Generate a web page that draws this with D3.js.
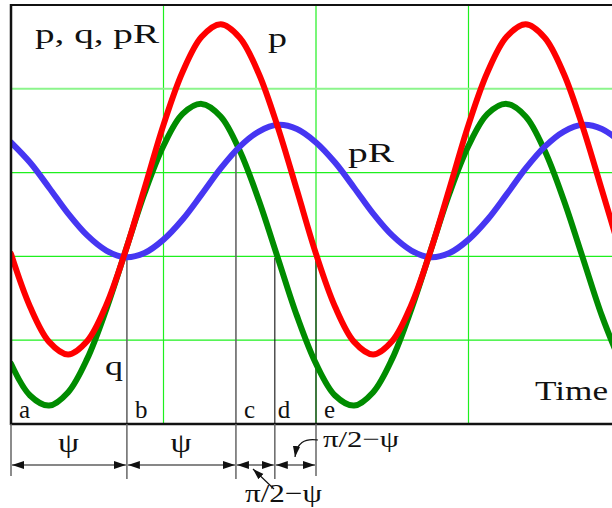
<!DOCTYPE html>
<html lang="en">
<head>
<meta charset="UTF-8">
<title>p, q, pR</title>
<script src="https://d3js.org/d3.v7.min.js"></script>
<style>
body { margin: 0; background: white; }
svg { display: block; }
text { font-family: "Liberation Serif", "Times New Roman", "DejaVu Serif", serif; fill: #111; }
</style>
</head>
<body>
<svg width="612" height="508"></svg>
<script>
// sample times (grid units) and the three curves
var times = [0, 0.125, 0.25, 0.375, 0.5, 0.625, 0.75, 0.875, 1, 1.125, 1.25, 1.375, 1.5, 1.625, 1.75, 1.875,
             2, 2.125, 2.25, 2.375, 2.5, 2.625, 2.75, 2.875, 3, 3.125, 3.25, 3.375, 3.5, 3.625, 3.75, 3.875, 4];
var pVals  = [2.03, 1.40, 0.98, 0.83, 0.99, 1.42, 2.06, 2.81, 3.57, 4.20, 4.62, 4.77, 4.61, 4.18, 3.54, 2.79,
              2.03, 1.40, 0.98, 0.83, 0.99, 1.42, 2.06, 2.81, 3.57, 4.20, 4.62, 4.77, 4.61, 4.18, 3.54, 2.79, 2.03];
var qVals  = [0.72, 0.34, 0.22, 0.38, 0.78, 1.37, 2.06, 2.75, 3.32, 3.70, 3.82, 3.67, 3.26, 2.67, 1.98, 1.29,
              0.72, 0.34, 0.22, 0.38, 0.78, 1.37, 2.06, 2.75, 3.32, 3.70, 3.82, 3.67, 3.26, 2.67, 1.98, 1.29, 0.72];
var pRVals = [3.36, 3.12, 2.82, 2.51, 2.25, 2.07, 1.99, 2.04, 2.20, 2.44, 2.74, 3.05, 3.31, 3.49, 3.57, 3.52,
              3.36, 3.12, 2.82, 2.51, 2.25, 2.07, 1.99, 2.04, 2.20, 2.44, 2.74, 3.05, 3.31, 3.49, 3.57, 3.52, 3.36];

var gridX = [1, 2, 3];
var gridY = [1, 2, 3, 4];

// a..e instants and where their drop lines start
var markNames = ["a", "b", "c", "d", "e"];
var markT     = [0, 0.76, 1.475, 1.73, 2.0];
var markTop   = [null, 1.99, 3.30, 1.98, 2.06];
var spanLabels = ["\u03c8", "\u03c8"];

var svg = d3.select("svg"),
    width = +svg.attr("width"),
    height = +svg.attr("height");

var x = d3.scaleLinear().domain([0, 4]).range([11, 621]);
var y = d3.scaleLinear().domain([0, 5]).range([424, 5]);

svg.append("defs").append("clipPath").attr("id", "plot")
  .append("rect").attr("x", x(0)).attr("y", y(5)).attr("width", width - x(0)).attr("height", y(0) - y(5));

var defs = svg.select("defs");
defs.append("marker")
    .attr("id", "ah").attr("viewBox", "0 0 12 8")
    .attr("refX", 12).attr("refY", 4)
    .attr("markerWidth", 12).attr("markerHeight", 8)
    .attr("markerUnits", "userSpaceOnUse")
    .attr("orient", "auto-start-reverse")
  .append("path").attr("d", "M0,0 L12,4 L0,8 Z").attr("fill", "#111");
defs.append("marker")
    .attr("id", "ah2").attr("viewBox", "0 0 12 8")
    .attr("refX", 12).attr("refY", 4)
    .attr("markerWidth", 11).attr("markerHeight", 8)
    .attr("markerUnits", "userSpaceOnUse")
    .attr("orient", "auto")
  .append("path").attr("d", "M0,0 L12,4 L0,8 Z").attr("fill", "#111");

// grid
svg.append("g").selectAll("line").data(gridX).enter().append("line")
    .attr("x1", function(d) { return x(d); }).attr("x2", function(d) { return x(d); })
    .attr("y1", y(5)).attr("y2", y(0))
    .attr("stroke", "#1ef01e").attr("stroke-width", 1.2);
svg.append("g").selectAll("line").data(gridY).enter().append("line")
    .attr("x1", x(0)).attr("x2", width)
    .attr("y1", function(d) { return y(d); }).attr("y2", function(d) { return y(d); })
    .attr("stroke", function(d) { return d == 4 ? "#8cf58c" : "#1ef01e"; })
    .attr("stroke-width", function(d) { return d == 4 ? 2 : 1.2; });

// drop lines a..e above the axis
svg.append("g").selectAll("line").data(markT.slice(1)).enter().append("line")
    .attr("x1", function(d) { return x(d); }).attr("x2", function(d) { return x(d); })
    .attr("y1", function(d, i) { return y(markTop[i + 1]); }).attr("y2", y(0))
    .attr("stroke", function(d, i) { return i < 2 ? "#666" : "#111"; })
    .attr("stroke-width", function(d, i) { return i < 2 ? 1.6 : 1.1; });

// curves
var line = d3.line()
    .x(function(d) { return x(d[0]); })
    .y(function(d) { return y(d[1]); })
    .curve(d3.curveCatmullRom);

var series = [
  {vals: qVals, color: "#008c00"},
  {vals: pRVals, color: "#4636f2"},
  {vals: pVals, color: "#ff0000"}
];
svg.append("g").attr("clip-path", "url(#plot)")
  .selectAll("path").data(series).enter().append("path")
    .attr("d", function(s) { return line(times.map(function(t, i) { return [t, s.vals[i]]; })); })
    .attr("fill", "none")
    .attr("stroke", function(s) { return s.color; })
    .attr("stroke-width", 6)
    .attr("stroke-linejoin", "round")
    .attr("stroke-linecap", "round");

// frame: left axis, top border, time axis
svg.append("line").attr("x1", x(0)).attr("x2", x(0)).attr("y1", y(5) - 1).attr("y2", y(0) + 1)
    .attr("stroke", "#111").attr("stroke-width", 2.5);
svg.append("line").attr("x1", x(0) - 1).attr("x2", width).attr("y1", y(5)).attr("y2", y(5))
    .attr("stroke", "#111").attr("stroke-width", 2);
svg.append("line").attr("x1", x(0) - 1).attr("x2", width).attr("y1", y(0)).attr("y2", y(0))
    .attr("stroke", "#111").attr("stroke-width", 2.5);

// extensions under the axis
svg.append("g").selectAll("line").data(markT).enter().append("line")
    .attr("x1", function(d) { return x(d); }).attr("x2", function(d) { return x(d); })
    .attr("y1", y(0)).attr("y2", function(d, i) { return (i == 0 || i == 4) ? 476 : 479; })
    .attr("stroke", "#666").attr("stroke-width", 1.5);

// letters a..e
svg.append("g").selectAll("text").data(markNames).enter().append("text")
    .attr("x", function(d, i) { return x(markT[i]) + (i == 3 ? 3 : 8); })
    .attr("y", 418)
    .style("font-size", "25px")
    .text(function(d) { return d; });

// span arrows
var spans = d3.pairs(markT);
svg.append("g").selectAll("line").data(spans).enter().append("line")
    .attr("x1", function(d) { return x(d[0]) + 1; }).attr("x2", function(d) { return x(d[1]) - 1; })
    .attr("y1", 465).attr("y2", 465)
    .attr("stroke", "#111").attr("stroke-width", 1.2)
    .attr("marker-start", "url(#ah)").attr("marker-end", "url(#ah)");

svg.append("g").selectAll("text").data(spanLabels).enter().append("text")
    .attr("x", function(d, i) { return (x(spans[i][0]) + x(spans[i][1])) / 2 - 11; })
    .attr("y", 452)
    .attr("textLength", 21).attr("lengthAdjust", "spacingAndGlyphs")
    .style("font-size", "28px")
    .text(function(d) { return d; });

// pi/2 - psi notes with pointer arrows
svg.append("text").attr("x", 323).attr("y", 447)
    .attr("textLength", 76).attr("lengthAdjust", "spacingAndGlyphs")
    .style("font-size", "24px").text("\u03c0/2\u2212\u03c8");
svg.append("path").attr("d", "M318,440 C304,438 297,443 295,457")
    .attr("fill", "none").attr("stroke", "#111").attr("stroke-width", 1.2)
    .attr("marker-end", "url(#ah2)");
svg.append("text").attr("x", 245).attr("y", 502)
    .attr("textLength", 77).attr("lengthAdjust", "spacingAndGlyphs")
    .style("font-size", "26px").text("\u03c0/2\u2212\u03c8");
svg.append("path").attr("d", "M274,489 L253,469")
    .attr("fill", "none").attr("stroke", "#111").attr("stroke-width", 1.2)
    .attr("marker-end", "url(#ah2)");

// curve names
var labels = [
  {t: "p, q, pR", x: 35, y: 43, w: 124},
  {t: "p", x: 268, y: 47, w: 19},
  {t: "pR", x: 348, y: 162, w: 46},
  {t: "q", x: 105, y: 375, w: 18},
  {t: "Time", x: 535, y: 400, w: 73}
];
svg.append("g").selectAll("text").data(labels).enter().append("text")
    .attr("x", function(d) { return d.x; })
    .attr("y", function(d) { return d.y; })
    .attr("textLength", function(d) { return d.w; })
    .attr("lengthAdjust", "spacingAndGlyphs")
    .style("font-size", "27px")
    .text(function(d) { return d.t; });
</script>
</body>
</html>
